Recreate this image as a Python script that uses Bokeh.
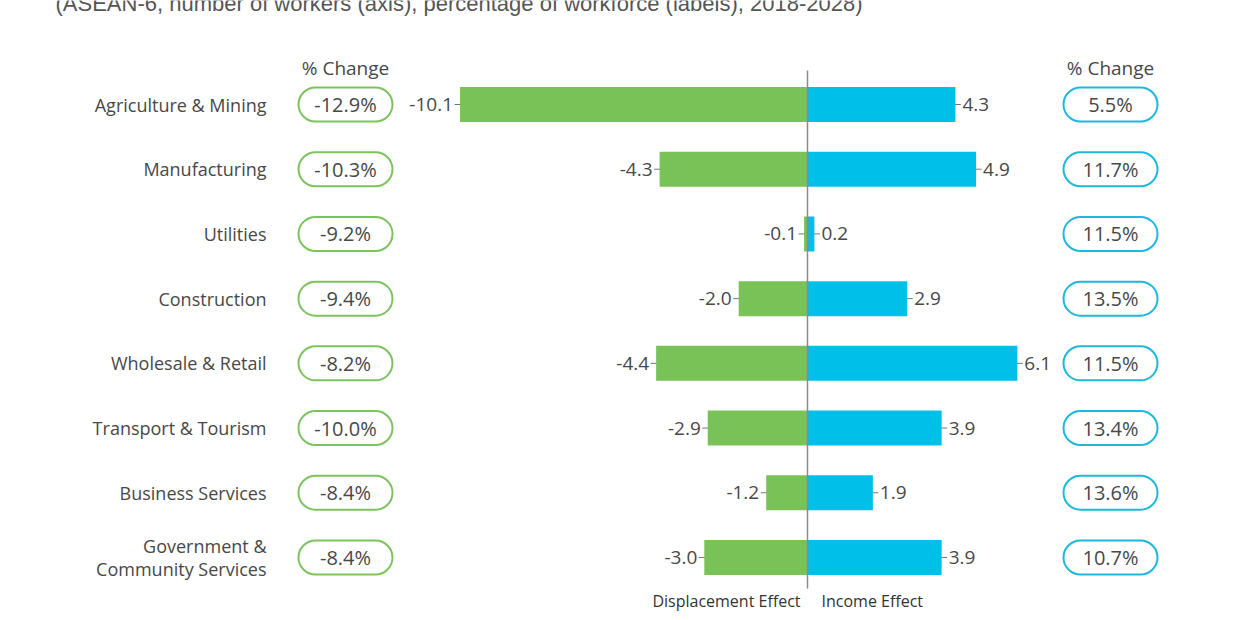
from bokeh.plotting import figure
from bokeh.models import Range1d
from bokeh.core.properties import value
from bokeh.embed import file_html
from bokeh.resources import INLINE

categories = ["Agriculture & Mining", "Manufacturing", "Utilities", "Construction",
              "Wholesale & Retail", "Transport & Tourism", "Business Services",
              "Government &\nCommunity Services"]
displacement = [-10.1, -4.3, -0.1, -2.0, -4.4, -2.9, -1.2, -3.0]
income = [4.3, 4.9, 0.2, 2.9, 6.1, 3.9, 1.9, 3.9]
disp_pct = [-12.9, -10.3, -9.2, -9.4, -8.2, -10.0, -8.4, -8.4]
inc_pct = [5.5, 11.7, 11.5, 13.5, 11.5, 13.4, 13.6, 10.7]

subtitle = "(ASEAN-6, number of workers (axis), percentage of workforce (labels), 2018-2028)"

GREEN = "#78c257"
BLUE = "#00bfe8"
GREEN_LINE = "#7cc35e"
BLUE_LINE = "#1cb9dc"
TXT = "#484848"
FONT = value("Open Sans")
SUBFONT = value("Liberation Sans")

W, H = 1224, 612
# layout: pixel scale
X0_PX = 807.0          # zero line in px
PX_PER_UNIT = 34.4
ROW0_PX = 104.0        # first row center in px
ROW_PX = 64.71

def xd(px):
    return (px - X0_PX) / PX_PER_UNIT

def yd(px):
    return (px - ROW0_PX) / ROW_PX

p = figure(width=W, height=H, output_backend="svg", toolbar_location=None,
           x_range=Range1d(xd(0), xd(W)), y_range=Range1d(yd(H), yd(0)),
           min_border=0, outline_line_color=None)
p.axis.visible = False
p.grid.visible = False
p.background_fill_color = "white"
p.border_fill_color = "white"

idx = list(range(len(categories)))
fmt = lambda v: f"{v:.1f}"
fmt_neg = lambda v: "-" + f"{abs(v):.1f}"

# ticks at bar ends
p.scatter(x=displacement, y=idx, marker="dash", size=11, line_color="#777777", line_width=1)
p.scatter(x=income, y=idx, marker="dash", size=11, line_color="#777777", line_width=1)

BAR_H = 35 / ROW_PX
p.hbar(y=idx, left=displacement, right=[0] * len(idx), height=BAR_H, fill_color=GREEN, line_color=None)
p.hbar(y=idx, left=[0] * len(idx), right=income, height=BAR_H, fill_color=BLUE, line_color=None)

# zero line
p.segment(x0=[0], y0=[yd(70)], x1=[0], y1=[yd(588)], line_color="#8a8a8a", line_width=1.5)

# bar labels
p.text(x=displacement, y=idx, text=[fmt_neg(v) for v in displacement], x_offset=-7,
       text_align="right", text_baseline="middle", text_font=FONT, text_font_size="19px",
       text_color=TXT)
p.text(x=income, y=idx, text=[fmt(v) for v in income], x_offset=7,
       text_align="left", text_baseline="middle", text_font=FONT, text_font_size="19px",
       text_color=TXT)

# category labels
p.text(x=[xd(266)] * len(idx), y=idx, text=categories, text_align="right",
       text_baseline="middle", text_font=FONT, text_font_size="18px", text_color=TXT,
       text_line_height=0.96)

# pills
PW = 94 / PX_PER_UNIT / 2
PH = 34 / ROW_PX
lc, rc = xd(345), xd(1110)
p.hbar(y=idx, left=[lc - PW] * len(idx), right=[lc + PW] * len(idx), height=PH,
       fill_color="white", line_color=GREEN_LINE, line_width=2, border_radius=17)
p.hbar(y=idx, left=[rc - PW] * len(idx), right=[rc + PW] * len(idx), height=PH,
       fill_color="white", line_color=BLUE_LINE, line_width=2, border_radius=17)
p.text(x=[lc] * len(idx), y=idx, text=[("-" + f"{abs(v):.1f}%") for v in disp_pct],
       text_align="center", text_baseline="middle", text_font=FONT, text_font_size="20px",
       text_color=TXT)
p.text(x=[rc] * len(idx), y=idx, text=[f"{v:.1f}%" for v in inc_pct],
       text_align="center", text_baseline="middle", text_font=FONT, text_font_size="20px",
       text_color=TXT)

# headers
p.text(x=[lc, rc], y=[yd(67)] * 2, text=["% Change", "% Change"], text_align="center",
       text_baseline="middle", text_font=FONT, text_font_size="19px", text_color=TXT)

# bottom labels
p.text(x=[xd(800)], y=[yd(600)], text=["Displacement Effect"], text_align="right",
       text_baseline="middle", text_font=FONT, text_font_size="16px", text_color="#333333")
p.text(x=[xd(821)], y=[yd(600)], text=["Income Effect"], text_align="left",
       text_baseline="middle", text_font=FONT, text_font_size="16px", text_color="#333333")

# subtitle (cut off at top, as in the source)
p.text(x=[xd(55)], y=[yd(3)], text=[subtitle], text_align="left",
       text_baseline="middle", text_font=SUBFONT, text_font_size="22px", text_color="#555555")

open("out.html", "w").write(file_html(p, INLINE))
